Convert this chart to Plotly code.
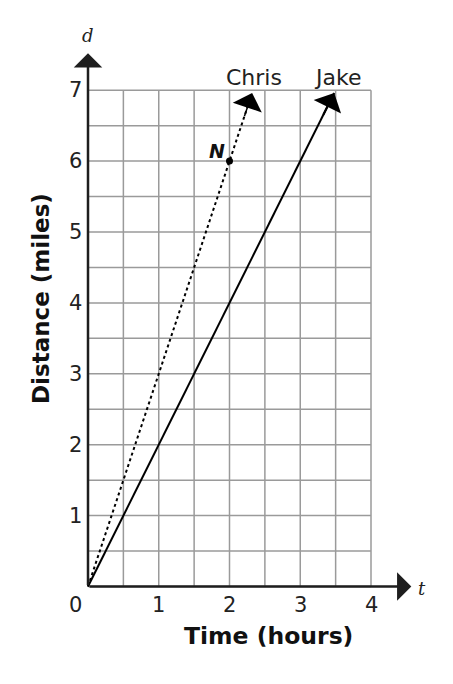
import math
import plotly.graph_objects as go

# ---- data ----
time_ticks = [0, 1, 2, 3, 4]
distance_ticks = [0, 1, 2, 3, 4, 5, 6, 7]
grid_t = [0, 0.5, 1, 1.5, 2, 2.5, 3, 3.5, 4]
grid_d = [0, 0.5, 1, 1.5, 2, 2.5, 3, 3.5, 4, 4.5, 5, 5.5, 6, 6.5, 7]
chris_t = [0, 2, 2.32]
chris_d = [0, 6, 6.96]
jake_t = [0, 3.48]
jake_d = [0, 6.96]
point_n_t = [2]
point_n_d = [6]

FONT = "DejaVu Sans"
GRID = "#9a9a9a"
AXIS = "#1e1e1e"

# pixel -> data helpers (layout only)
OX, OY, UX, UY = 88.0, 586.5, 70.75, 70.9
W, H = 453, 684
BODY = 8
def dx(px):
    return (px - OX) / UX
def dy(py):
    return (OY - py) / UY

fig = go.Figure()

# grid
gx, gy = [], []
for t in grid_t:
    gx += [t, t, None]
    gy += [grid_d[0], grid_d[-1], None]
for d in grid_d:
    gx += [grid_t[0], grid_t[-1], None]
    gy += [d, d, None]
fig.add_trace(go.Scatter(x=gx, y=gy, mode="lines",
                         line=dict(color=GRID, width=1.5),
                         hoverinfo="skip", showlegend=False))

# Chris (dotted) and Jake (solid)
fig.add_trace(go.Scatter(x=chris_t[:-1] + [chris_t[-1] - 0.06], y=chris_d[:-1] + [chris_d[-1] - 0.18],
                         mode="lines",
                         line=dict(color="black", width=2, dash="dot"),
                         showlegend=False))
fig.add_trace(go.Scatter(x=jake_t, y=jake_d, mode="lines",
                         line=dict(color="black", width=2),
                         showlegend=False))
fig.add_trace(go.Scatter(x=point_n_t, y=point_n_d, mode="markers",
                         marker=dict(color="black", size=7),
                         showlegend=False))

ann = []

def head(tt, dd, back_px, width, size):
    x1, y1 = tt[-1], dd[-1]
    x0, y0 = tt[-2], dd[-2]
    px = (x1 - x0) * UX
    py = (y1 - y0) * UY
    n = math.hypot(px, py)
    return dict(x=x1, y=y1, ax=x1 - px / n * back_px / UX, ay=y1 - py / n * back_px / UY,
                axref="x", ayref="y", text="", showarrow=True, arrowhead=1,
                arrowsize=size, arrowwidth=width, arrowcolor="black")

ann.append(head(chris_t, chris_d, 26, 1.5, 3.4))
ann.append(head(jake_t, jake_d, 26, 2, 2.55))

# axes with arrows
ann.append(dict(x=0, y=7.52, ax=0, ay=0, axref="x", ayref="y", text="", showarrow=True,
                arrowhead=1, arrowsize=1.9, arrowwidth=2.5, arrowcolor=AXIS))
ann.append(dict(x=4.57, y=0, ax=0, ay=0, axref="x", ayref="y", text="", showarrow=True,
                arrowhead=1, arrowsize=1.9, arrowwidth=2.5, arrowcolor=AXIS))

tick_font = dict(family=FONT, size=21, color="#222")
for t in time_ticks:
    xx = dx(75) if t == 0 else t
    ann.append(dict(x=xx, y=dy(605), text=str(t), showarrow=False, font=tick_font))
for d in distance_ticks[1:]:
    ann.append(dict(x=dx(75), y=d, text=str(d), showarrow=False, font=tick_font))

ann.append(dict(x=dx(88), y=dy(35), text="<i>d</i>", showarrow=False,
                font=dict(family="DejaVu Serif", size=18, color="#222")))
ann.append(dict(x=dx(422), y=dy(588), text="<i>t</i>", showarrow=False,
                font=dict(family="DejaVu Serif", size=18, color="#222")))

ann.append(dict(x=dx(268), y=dy(636), text="<b>Time (hours)</b>", showarrow=False,
                font=dict(family=FONT, size=23.5, color="#111")))
ann.append(dict(x=dx(41), y=dy(299), text="<b>Distance (miles)</b>", showarrow=False,
                textangle=-90, font=dict(family=FONT, size=23, color="#111")))

label_font = dict(family=FONT, size=22, color="#222")
ann.append(dict(x=dx(254), y=dy(77), text="Chris", showarrow=False, font=label_font))
ann.append(dict(x=dx(337), y=dy(77), text="Jake", showarrow=False, font=label_font))
ann.append(dict(x=dx(217), y=dy(151), text="<b><i>N</i></b>", showarrow=False,
                font=dict(family=FONT, size=19, color="#111")))

for a in ann:
    a["xref"] = "x"
    a["yref"] = "y"

fig.update_layout(
    width=W, height=H,
    margin=dict(l=0, r=0, t=0, b=0, pad=0),
    plot_bgcolor="white", paper_bgcolor="white",
    xaxis=dict(range=[dx(BODY), dx(BODY + W)], visible=False, fixedrange=True),
    yaxis=dict(range=[dy(BODY + H), dy(BODY)], visible=False, fixedrange=True),
    annotations=ann,
    showlegend=False,
)

fig.write_html("out.html")
